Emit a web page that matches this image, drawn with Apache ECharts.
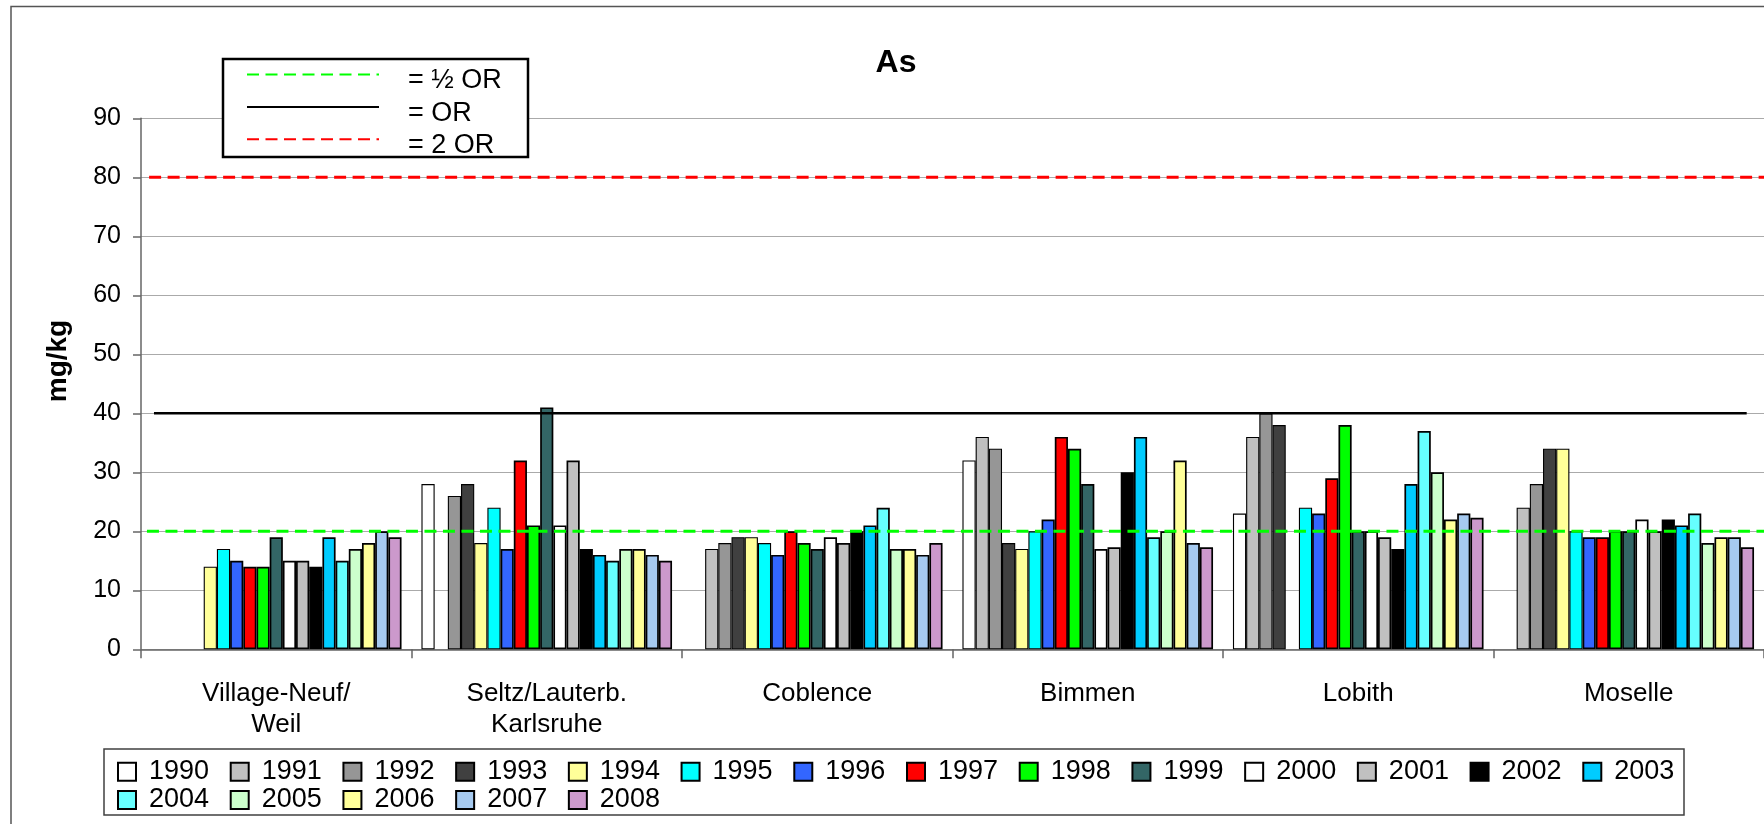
<!DOCTYPE html>
<html><head><meta charset="utf-8">
<script src="https://cdn.jsdelivr.net/npm/echarts@6/dist/echarts.min.js"></script>
<style>html,body{margin:0;padding:0;background:#fff}#c{width:1764px;height:824px}</style>
</head><body><div id="c"></div>
<script>
// ---------- data ----------
const categories = ['Village-Neuf/\nWeil', 'Seltz/Lauterb.\nKarlsruhe', 'Coblence', 'Bimmen', 'Lobith', 'Moselle'];
const years = ['1990','1991','1992','1993','1994','1995','1996','1997','1998','1999','2000','2001','2002','2003','2004','2005','2006','2007','2008'];
const y1990 = [null, 28, null, 32, 23, null];
const y1991 = [null, null, 17, 36, 36, 24];
const y1992 = [null, 26, 18, 34, 40, 28];
const y1993 = [null, 28, 19, 18, 38, 34];
const y1994 = [14, 18, 19, 17, null, 34];
const y1995 = [17, 24, 18, 20, 24, 20];
const y1996 = [15, 17, 16, 22, 23, 19];
const y1997 = [14, 32, 20, 36, 29, 19];
const y1998 = [14, 21, 18, 34, 38, 20];
const y1999 = [19, 41, 17, 28, 20, 20];
const y2000 = [15, 21, 19, 17, 20, 22];
const y2001 = [15, 32, 18, 17.3, 19, 20];
const y2002 = [14, 17, 20, 30, 17, 22];
const y2003 = [19, 16, 21, 36, 28, 21];
const y2004 = [15, 15, 24, 19, 37, 23];
const y2005 = [17, 17, 17, 20, 30, 18];
const y2006 = [18, 17, 17, 32, 22, 19];
const y2007 = [20, 16, 16, 18, 23, 19];
const y2008 = [19, 15, 18, 17.3, 22.3, 17.3];
const seriesValues = [y1990,y1991,y1992,y1993,y1994,y1995,y1996,y1997,y1998,y1999,y2000,y2001,y2002,y2003,y2004,y2005,y2006,y2007,y2008];
const yTickMin = 0, yTickMax = 90, yTickStep = 10;
const refNames = ['= ½ OR', '= OR', '= 2 OR'];
const refValues = [20, 40, 80];

// ---------- styles ----------
const F = 'Liberation Sans, Arial, sans-serif';
const barColors = ['#FFFFFF','#C0C0C0','#969696','#404040','#FFFF99','#00FFFF','#3366FF','#FF0000','#00FF00','#336666',
                   '#FFFFFF','#C0C0C0','#000000','#00CCFF','#66FFFF','#CCFFCC','#FFFF99','#A6CAF0','#CC99CC'];
const refStyles = [
  {color:'#00FF00', width:3, type:[12,6.5], from:0.022, to:6},
  {color:'#000000', width:2.5, type:'solid', from:0.048, to:5.936},
  {color:'#FF0000', width:3, type:[12,6.5], from:0.03, to:6}
];

const series = [];
years.forEach((yr, i) => {
  series.push({
    name: yr, type: 'bar', xAxisIndex: 0, yAxisIndex: 0,
    data: seriesValues[i],
    barGap: '0%', barCategoryGap: '7.36%',
    itemStyle: {color: barColors[i], borderColor: '#000', borderWidth: i < 6 ? 1.1 : 1.7},
    silent: true, z: 2
  });
});
refNames.forEach((nm, i) => {
  const s = refStyles[i];
  series.push({
    name: nm, type: 'line', xAxisIndex: 1, yAxisIndex: 0,
    data: [[s.from, refValues[i]], [s.to, refValues[i]]],
    symbol: 'none', silent: true, z: 5,
    itemStyle: {color: s.color, opacity: 0},
    lineStyle: {color: s.color, width: s.width, type: s.type}
  });
});

const chart = echarts.init(document.getElementById('c'), null, {renderer: 'canvas'});
chart.setOption({
  animation: false,
  backgroundColor: '#fff',
  textStyle: {fontFamily: F},
  title: {
    text: 'As', left: 896, top: 47, textAlign: 'center', padding: 0,
    textStyle: {fontFamily: F, fontSize: 32, fontWeight: 'bold', color: '#000'}
  },
  grid: {left: 141, top: 118.3, width: 1630.5, height: 531, containLabel: false},
  xAxis: [{
    type: 'category', data: categories, gridIndex: 0,
    axisLine: {show: true, lineStyle: {color: '#666', width: 1.5}},
    axisTick: {show: true, length: 9, lineStyle: {color: '#666', width: 1.5}},
    axisLabel: {interval: 0, fontFamily: F, fontSize: 26, lineHeight: 31, margin: 29, color: '#000'},
    splitLine: {show: false}
  }, {
    type: 'value', gridIndex: 0, min: 0, max: 6, show: false
  }],
  yAxis: {
    type: 'value', min: yTickMin, max: yTickMax, interval: yTickStep,
    axisLine: {show: true, lineStyle: {color: '#666', width: 1.5}},
    axisTick: {show: true, length: 8, lineStyle: {color: '#666', width: 1.5}},
    axisLabel: {fontFamily: F, fontSize: 25, margin: 20, color: '#000'},
    splitLine: {show: true, lineStyle: {color: '#aaaaaa', width: 1.2}}
  },
  legend: [{
    data: years.slice(0, 14), orient: 'horizontal', left: 117, top: 757.7, padding: 0,
    itemWidth: 18, itemHeight: 18, itemGap: 20.65, icon: 'rect', selectedMode: false, z: 30,
    textStyle: {fontFamily: F, fontSize: 27, lineHeight: 28, color: '#000', padding: [0,0,0,8]}
  }, {
    data: years.slice(14), orient: 'horizontal', left: 117, top: 786, padding: 0,
    itemWidth: 18, itemHeight: 18, itemGap: 20.65, icon: 'rect', selectedMode: false, z: 30,
    textStyle: {fontFamily: F, fontSize: 27, lineHeight: 28, color: '#000', padding: [0,0,0,8]}
  }, {
    data: refNames, orient: 'vertical', left: 246, top: 54.5, padding: 0,
    itemWidth: 132, itemHeight: 14, itemGap: -7.6, selectedMode: false, z: 30,
    formatter: '{t|{name}}',
    textStyle: {fontFamily: F, fontSize: 27, color: '#000',
      rich: {t: {fontFamily: F, fontSize: 27, lineHeight: 18, color: '#000', padding: [13, 0, 0, 24]}}}
  }],
  graphic: [
    {type: 'rect', z: -10, silent: true, shape: {x: 11, y: 6.5, width: 1800, height: 900},
     style: {fill: null, stroke: '#555', lineWidth: 1.5}},
    {type: 'rect', z: 20, silent: true, shape: {x: 223, y: 59, width: 305, height: 98},
     style: {fill: '#fff', stroke: '#000', lineWidth: 2.5}},
    {type: 'rect', z: 20, silent: true, shape: {x: 104, y: 749, width: 1580, height: 66},
     style: {fill: '#fff', stroke: '#404040', lineWidth: 1.5}},
    {type: 'text', z: 20, silent: true, x: 58, y: 361, rotation: Math.PI / 2,
     style: {text: 'mg/kg', font: 'bold 28px ' + F, fill: '#000', align: 'center', verticalAlign: 'middle'}}
  ],
  series: series
});
</script></body></html>
